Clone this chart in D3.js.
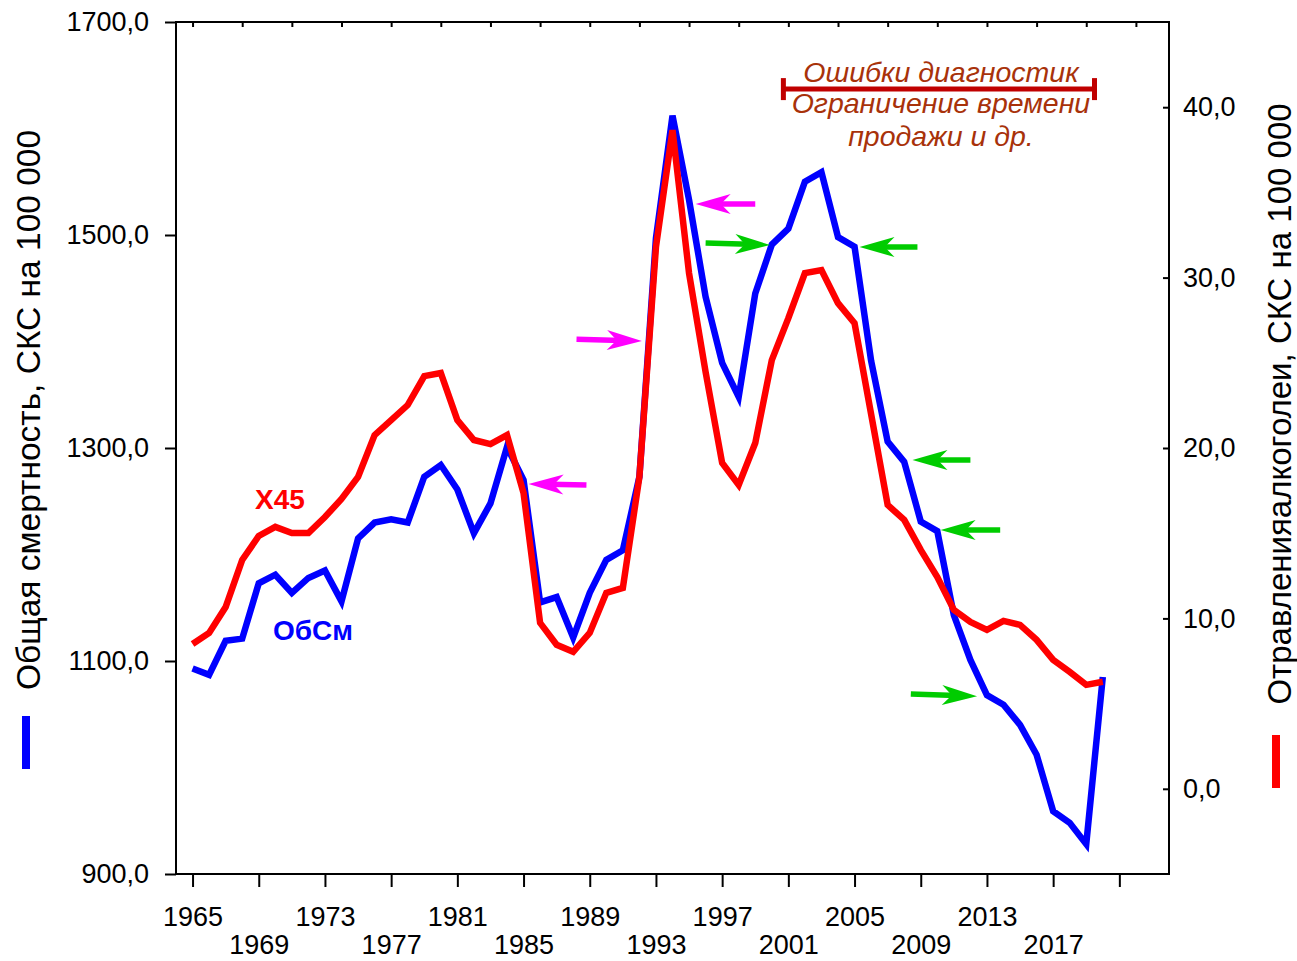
<!DOCTYPE html>
<html>
<head>
<meta charset="utf-8">
<script src="https://cdn.jsdelivr.net/npm/d3@7/dist/d3.min.js"></script>
<style>
  body { margin: 0; background: #fff; }
  svg { display: block; }
  text { font-family: Arial, 'Liberation Sans', sans-serif; }
</style>
</head>
<body>
<div id="chart"></div>
<script>
// years on the x axis
const years = [
  1965, 1966, 1967, 1968, 1969, 1970, 1971, 1972, 1973, 1974,
  1975, 1976, 1977, 1978, 1979, 1980, 1981, 1982, 1983, 1984,
  1985, 1986, 1987, 1988, 1989, 1990, 1991, 1992, 1993, 1994,
  1995, 1996, 1997, 1998, 1999, 2000, 2001, 2002, 2003, 2004,
  2005, 2006, 2007, 2008, 2009, 2010, 2011, 2012, 2013, 2014,
  2015, 2016, 2017, 2018, 2019, 2020
];

// general mortality (left axis)
const obsm = [
  1093, 1087, 1119, 1121, 1173, 1181, 1164, 1178, 1185, 1156,
  1215, 1230, 1233, 1230, 1273, 1284, 1261, 1220, 1248, 1301,
  1270, 1155, 1160, 1122, 1164, 1195, 1204, 1273, 1497, 1612,
  1533, 1442, 1380, 1348, 1445, 1491, 1506, 1550, 1559, 1498,
  1489, 1382, 1306, 1287, 1231, 1222, 1143, 1101, 1068, 1059,
  1040, 1012, 959, 948, 928, 1085
];

// alcohol poisoning X45 (right axis)
const x45 = [
  8.5, 9.15, 10.67, 13.43, 14.84, 15.37, 15.01, 15.01, 15.95, 17.01,
  18.3, 20.76, 21.64, 22.52, 24.22, 24.4, 21.64, 20.47, 20.23, 20.76,
  17.36, 9.74, 8.45, 8.04, 9.15, 11.5, 11.79, 18.3, 31.79, 38.65,
  30.26, 24.46, 19.12, 17.83, 20.29, 25.16, 27.62, 30.26, 30.44, 28.5,
  27.33, 21.99, 16.66, 15.78, 14.02, 12.43, 10.5, 9.79, 9.33, 9.85,
  9.62, 8.74, 7.57, 6.86, 6.1, 6.28
];

const leftTicks = [900, 1100, 1300, 1500, 1700];
const rightTicks = [0, 10, 20, 30, 40];
const bottomTicks = [1965, 1969, 1973, 1977, 1981, 1985, 1989, 1993, 1997, 2001, 2005, 2009, 2013, 2017, 2021];
const bottomLabelMax = 2017;
const topTicks = [1965, 1968, 1971, 1974, 1977, 1980, 1983, 1986, 1989, 1992, 1995, 1998, 2001, 2004, 2007, 2010, 2013, 2016, 2019, 2022];

// arrows: [tailYear, tailValue, tipYear, tipValue] on the left axis
const magentaArrows = [
  [1999.0, 1529, 1995.4, 1529],
  [1988.2, 1402, 1992.15, 1400.5],
  [1988.8, 1265.3, 1985.3, 1266.2]
];
const greenArrows = [
  [1996.0, 1492.5, 1999.9, 1490.6],
  [2008.8, 1488.7, 2005.3, 1488.7],
  [2012.0, 1288.7, 2008.5, 1288.7],
  [2013.8, 1223, 2010.2, 1223],
  [2008.4, 1069, 2012.4, 1067]
];

const bracketSpan = [2000.7, 2019.5];
const bracketValue = 1637;
const bracketLines = ['Ошибки диагностик', 'Ограничение времени', 'продажи и др.'];

const leftTitle = 'Общая смертность,  СКС на 100 000';
const rightTitle = 'Отравленияалкоголеи,  СКС на 100 000';

const width = 1297, height = 961;
const margin = { top: 22, right: 128, bottom: 87, left: 176 };
const plotW = width - margin.left - margin.right;
const plotH = height - margin.top - margin.bottom;

const svg = d3.select('#chart')
  .append('svg')
  .attr('width', width)
  .attr('height', height);

const x = d3.scaleLinear().domain([1964, 2024]).range([margin.left, margin.left + plotW]);
const yL = d3.scaleLinear().domain([900, 1700]).range([margin.top + plotH, margin.top]);
const yR = d3.scaleLinear().domain([-5, 45]).range([margin.top + plotH, margin.top]);

const fmt = d => d.toFixed(1).replace('.', ',');

// axes
const gLeft = svg.append('g')
  .attr('transform', `translate(${margin.left},0)`)
  .call(d3.axisLeft(yL).tickValues(leftTicks).tickFormat(fmt)
    .tickSizeInner(11).tickSizeOuter(0).tickPadding(16));

const gRight = svg.append('g')
  .attr('transform', `translate(${margin.left + plotW},0)`)
  .call(d3.axisRight(yR).tickValues(rightTicks).tickFormat(fmt)
    .tickSizeInner(-6).tickSizeOuter(0).tickPadding(14));

const gBottom = svg.append('g')
  .attr('transform', `translate(0,${margin.top + plotH})`)
  .call(d3.axisBottom(x).tickValues(bottomTicks)
    .tickFormat(d => d <= bottomLabelMax ? d : '')
    .tickSizeInner(13).tickSizeOuter(0));

// labels alternate between two rows
gBottom.selectAll('.tick text')
  .attr('y', (d, i) => i % 2 ? 61 : 33)
  .attr('dy', '0.71em');

const gTop = svg.append('g')
  .attr('transform', `translate(0,${margin.top})`)
  .call(d3.axisTop(x).tickValues(topTicks).tickFormat('')
    .tickSizeInner(-5).tickSizeOuter(0));

[gLeft, gRight, gBottom, gTop].forEach(g => {
  g.select('.domain').remove();
  g.selectAll('.tick line').attr('stroke', '#000').attr('stroke-width', 2);
  g.selectAll('.tick text')
    .attr('fill', '#000')
    .style('font-size', '27px')
    .style('font-family', "Arial, 'Liberation Sans', sans-serif");
});

// frame
svg.append('rect')
  .attr('x', margin.left)
  .attr('y', margin.top)
  .attr('width', plotW)
  .attr('height', plotH)
  .attr('fill', 'none')
  .attr('stroke', '#000')
  .attr('stroke-width', 2);

// series
const lineL = d3.line().x((d, i) => x(years[i])).y(d => yL(d));
const lineR = d3.line().x((d, i) => x(years[i])).y(d => yR(d));

svg.append('path')
  .datum(obsm)
  .attr('d', lineL)
  .attr('fill', 'none')
  .attr('stroke', '#0000ff')
  .attr('stroke-width', 6.5);

svg.append('path')
  .datum(x45)
  .attr('d', lineR)
  .attr('fill', 'none')
  .attr('stroke', '#ff0000')
  .attr('stroke-width', 6.5);

// arrows
function drawArrow(a, color) {
  const tail = [x(a[0]), yL(a[1])];
  const tip = [x(a[2]), yL(a[3])];
  const ang = Math.atan2(tail[1] - tip[1], tail[0] - tip[0]) * 180 / Math.PI;
  const len = Math.hypot(tail[0] - tip[0], tail[1] - tip[1]);
  const L = 35, h = 10;
  const g = svg.append('g')
    .attr('transform', `translate(${tip[0]},${tip[1]}) rotate(${ang})`);
  g.append('line')
    .attr('x1', L * 0.6).attr('y1', 0)
    .attr('x2', len).attr('y2', 0)
    .attr('stroke', color)
    .attr('stroke-width', 5.5);
  g.append('path')
    .attr('d', `M0,0 L${L},${-h} L${L * 0.72},0 L${L},${h} Z`)
    .attr('fill', color);
}
magentaArrows.forEach(a => drawArrow(a, '#ff00ff'));
greenArrows.forEach(a => drawArrow(a, '#00cc00'));

// bracket annotation
const bx0 = x(bracketSpan[0]), bx1 = x(bracketSpan[1]), by = yL(bracketValue);
const bracketColor = '#c00000';
svg.append('line')
  .attr('x1', bx0).attr('x2', bx1).attr('y1', by).attr('y2', by)
  .attr('stroke', bracketColor).attr('stroke-width', 5);
[bx0, bx1].forEach(bx => {
  svg.append('line')
    .attr('x1', bx).attr('x2', bx).attr('y1', by - 11).attr('y2', by + 11)
    .attr('stroke', bracketColor).attr('stroke-width', 5);
});
const bcx = (bx0 + bx1) / 2;
const lineOffsets = [-7, 24, 57];
svg.selectAll('.bracket-text')
  .data(bracketLines)
  .join('text')
  .attr('class', 'bracket-text')
  .attr('x', bcx + 2)
  .attr('y', (d, i) => by + lineOffsets[i])
  .attr('text-anchor', 'middle')
  .attr('fill', '#a8320a')
  .style('font-size', '28.5px')
  .style('font-style', 'italic')
  .text(d => d);

// series labels
svg.append('text')
  .attr('x', x(1970.28))
  .attr('y', yL(1242.7))
  .attr('text-anchor', 'middle')
  .attr('fill', '#ff0000')
  .style('font-size', '28px')
  .style('font-weight', 'bold')
  .text('X45');

svg.append('text')
  .attr('x', x(1972.28))
  .attr('y', yL(1119.7))
  .attr('text-anchor', 'middle')
  .attr('fill', '#0000ff')
  .style('font-size', '28px')
  .style('font-weight', 'bold')
  .text('ОбСм');

// axis titles
svg.append('text')
  .attr('transform', 'translate(40,410) rotate(-90)')
  .attr('text-anchor', 'middle')
  .style('font-size', '33.5px')
  .text(leftTitle);

svg.append('text')
  .attr('transform', 'translate(1291,404) rotate(-90)')
  .attr('text-anchor', 'middle')
  .style('font-size', '33px')
  .text(rightTitle);

// legend bars beside the titles
svg.append('rect')
  .attr('x', 22).attr('y', 716).attr('width', 8).attr('height', 53)
  .attr('fill', '#0000ff');
svg.append('rect')
  .attr('x', 1272).attr('y', 735).attr('width', 8).attr('height', 53)
  .attr('fill', '#ff0000');
</script>
</body>
</html>
